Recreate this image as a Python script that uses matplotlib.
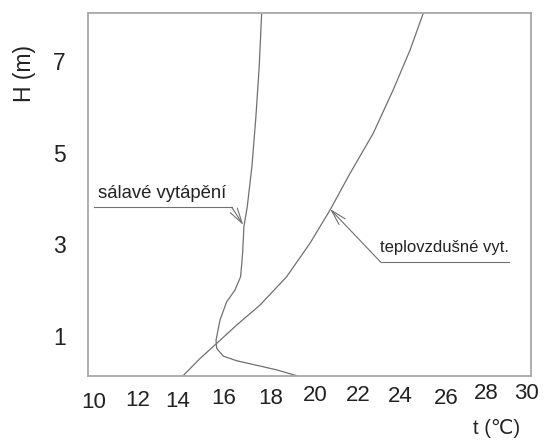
import matplotlib
matplotlib.use("Agg")
import matplotlib.pyplot as plt

plt.rcParams['font.family'] = ['Liberation Sans', 'DejaVu Sans']

# temperature profiles (t in degC, H in m)
radiantT = [17.84, 17.73, 17.58, 17.40, 17.19, 17.04, 16.98, 16.89, 16.64, 16.26,
            15.96, 15.78, 15.81, 16.11, 16.71, 17.62, 18.52, 19.47]
radiantH = [8.06, 6.89, 5.79, 4.70, 3.82, 3.39, 2.80, 2.29, 2.00, 1.74,
            1.34, 0.90, 0.72, 0.55, 0.45, 0.35, 0.25, 0.116]
airT = [25.14, 24.54, 23.78, 22.88, 21.83, 20.93, 20.02, 18.97, 17.77, 16.71,
        15.81, 15.06, 14.28]
airH = [8.06, 7.25, 6.38, 5.43, 4.55, 3.75, 3.02, 2.29, 1.67, 1.23,
        0.83, 0.50, 0.116]

xTicks = [10, 12, 14, 16, 18, 20, 22, 24, 26, 28, 30]
yTicks = [1, 3, 5, 7]

radiantLabel = "sálavé vytápění"
airLabel = "teplovzdušné vyt."

# hand placed x tick labels in the original (offset in degC, baseline height in m)
xTickDx = [0.24, 0.23, 0.03, 0.11, 0.26, 0.25, 0.2, 0.09, 0.19, 0.0, -0.2]
xTickBase = [-0.589, -0.536, -0.553, -0.488, -0.503, -0.429, -0.429, -0.451, -0.488, -0.394, -0.378]

lineColor = '#707070'
boxColor = '#a8a8a8'
textColor = '#222222'

fig = plt.figure(figsize=(5.46, 4.41), dpi=100)
ax = fig.add_axes([88 / 546, 1 - 376 / 441, 443 / 546, 363 / 441])
ax.set_xlim(10, 30)
ax.set_ylim(0.116, 8.06)

ax.plot(radiantT, radiantH, color=lineColor, lw=0.9)
ax.plot(airT, airH, color=lineColor, lw=0.9)

for s in ax.spines.values():
    s.set_color(boxColor)
    s.set_linewidth(1.3)

ax.set_xticks([])
ax.set_yticks(yTicks)
ax.set_yticklabels([str(v) for v in yTicks])
ax.tick_params(axis='y', length=0, pad=16, labelsize=16.5, labelcolor=textColor)

for v, dx, b in zip(xTicks, xTickDx, xTickBase):
    ax.text(v + dx, b, str(v), ha='center', va='baseline', fontsize=16,
            color=textColor, clip_on=False)

# leader lines with open arrow heads
arrowProps = dict(arrowstyle='->,head_length=1.1,head_width=0.3', color=lineColor,
                  lw=0.8, mutation_scale=10, shrinkA=0, shrinkB=0)
ax.plot([10.27, 16.49], [3.81, 3.81], color=lineColor, lw=0.8)
ax.annotate('', xy=(17.01, 3.42), xytext=(16.49, 3.81), arrowprops=arrowProps)
ax.plot([23.23, 29.02], [2.60, 2.60], color=lineColor, lw=0.8)
ax.annotate('', xy=(20.93, 3.77), xytext=(23.23, 2.60), arrowprops=arrowProps)

ax.text(10.46, 4.02, radiantLabel, fontsize=13.3, va='baseline', color=textColor)
ax.text(23.18, 2.82, airLabel, fontsize=12.0, va='baseline', color=textColor)

fig.text(25 / 546, 1 - 73.3 / 441, "H (m)", rotation=90, ha='center', va='center',
         fontsize=16.5, color=textColor)
fig.text(496.7 / 546, 1 - 428.3 / 441, "t (\u2103)", ha='center', va='center',
         fontsize=14.5, color=textColor)

fig.savefig("out.png", dpi=100)
